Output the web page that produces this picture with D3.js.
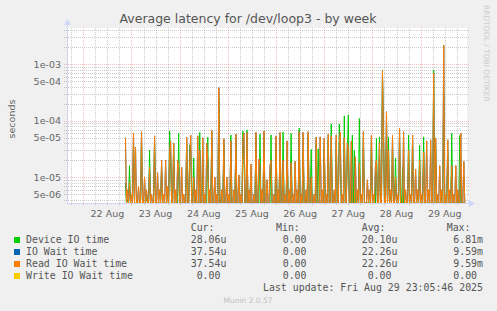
<!DOCTYPE html>
<html><head><meta charset="utf-8">
<script src="https://cdn.jsdelivr.net/npm/d3@7"></script>
<style>body{margin:0;background:#f0f0f0}svg{display:block}</style>
</head><body>
<svg id="c" width="497" height="311"></svg>
<script>
// ---- data ----
const titleText = "Average latency for /dev/loop3 - by week";
const dayLabels = ["22 Aug","23 Aug","24 Aug","25 Aug","26 Aug","27 Aug","28 Aug","29 Aug"];
const yTickValues = [1e-3, 5e-4, 1e-4, 5e-5, 1e-5, 5e-6];
const yTickLabels = ["1e-03","5e-04","1e-04","5e-05","1e-05","5e-06"];
const seriesNames = ["Device IO time","IO Wait time","Read IO Wait time","Write IO Wait time"];
const seriesColors = ["#00cc00","#0066b3","#ff8000","#ffcc00"];
const curValues = ["28.06u","37.54u","37.54u","0.00"];
const minValues = ["0.00","0.00","0.00","0.00"];
const avgValues = ["20.10u","22.26u","22.26u","0.00"];
const maxValues = ["6.81m","9.59m","9.59m","0.00"];
const lastUpdate = "Last update: Fri Aug 29 23:05:46 2025";
// samples every 30 minutes starting 2025-08-22 21:00, values in microseconds
const sampleStart = Date.UTC(2025, 7, 22, 21, 0);
const deviceIOTime = [
8,0,4,0,16,0,0,0,40,0,
0,0,0,0,0,0,50,0,0,0,
0,5,0,0,30,0,0,0,0,45,
0,0,0,0,0,0,15,0,0,0,
0,0,6,0,66,20,0,0,40,0,
0,0,0,60,0,0,0,0,0,0,
0,40,0,0,37,30,0,0,22,0,
5,0,0,0,62,0,0,20,0,0,
0,0,51,0,0,0,50,0,0,0,
0,0,0,250,0,0,5,0,40,0,
0,0,0,0,0,56,0,0,0,0,
45,0,0,0,0,0,0,66,20,0,
0,69,0,5,0,0,0,0,0,0,
50,0,0,0,58,0,0,0,50,0,
0,0,0,0,0,56,0,0,0,0,
40,0,5,0,50,0,0,63,0,0,
0,30,0,0,0,60,0,0,0,0,
0,0,0,74,0,0,0,30,0,0,
5,0,55,0,0,31,0,0,0,0,
40,0,32,0,0,0,0,0,35,0,
0,0,45,0,0,88,0,0,5,0,
45,0,0,88,30,0,0,0,122,0,
0,25,127,0,0,0,56,0,30,0,
0,5,0,110,0,0,0,50,0,0,
0,0,0,0,0,45,0,0,0,0,
49,0,0,52,0,0,700,60,0,0,
100,0,51,0,5,0,40,0,0,22,
0,0,0,55,0,0,15,0,0,0,
0,0,56,0,0,0,45,0,0,0,
0,5,0,37,0,0,0,52,0,0,
0,0,0,0,0,0,0,790,0,35,
0,0,0,0,0,5,0,300,0,0,
0,30,0,0,0,60,0,0,0,0,
0,5,0,55,0,0,0,0,0];
const readIOWaitTime = [
50,0,6,0,8,0,5,0,60,0,
34,0,0,7,0,0,64,0,0,10,
0,6,0,0,15,0,5,0,0,54,
0,0,12,0,6,0,20,0,5,0,
20,0,7,0,30,43,0,0,40,0,
6,0,20,15,0,0,15,0,5,0,
0,51,0,0,20,56,0,0,10,0,
6,0,54,0,30,0,0,50,0,5,
0,40,20,0,6,0,67,0,0,10,
0,5,0,386,0,0,6,0,48,0,
0,10,0,5,0,44,0,0,6,0,
58,0,0,11,0,5,0,45,60,0,
0,62,0,6,0,17,0,0,5,0,
62,0,0,21,15,0,6,0,66,0,
0,9,0,0,16,20,0,0,5,0,
54,0,6,0,62,0,0,20,0,5,
0,44,0,6,0,18,0,5,0,19,
0,6,0,64,0,5,0,62,0,0,
6,0,64,0,0,10,0,0,5,0,
51,0,0,0,52,0,6,0,49,0,
5,0,58,0,0,54,0,0,6,0,
56,0,0,40,63,0,5,0,50,0,
0,40,35,0,0,44,0,0,0,23,
0,6,0,18,0,5,0,64,0,0,
0,9,0,6,0,56,0,5,0,16,
20,0,0,41,0,0,790,58,0,0,
145,0,30,0,6,0,56,0,0,10,
0,5,0,74,0,0,0,64,0,6,
0,0,30,0,5,0,56,0,0,14,
0,6,0,20,0,5,0,28,0,0,
44,0,6,0,46,0,0,700,0,49,
0,5,0,16,0,6,0,2200,0,5,
0,46,0,6,0,16,0,5,0,16,
0,6,0,0,60,0,0,19,0];
const ioWaitTime = readIOWaitTime; // identical series (same stats in legend)

// ---- chart ----
const W = 497, H = 311, L = 67, R = 467, T = 28, B = 203;
const svg = d3.select("#c");
svg.append("rect").attr("width", W).attr("height", H).attr("fill", "#f0f0f0");
svg.append("rect").attr("x", L).attr("y", T).attr("width", R - L).attr("height", B - T).attr("fill", "#ffffff");

const x = d3.scaleUtc()
  .domain([new Date(Date.UTC(2025, 7, 21, 15, 53)), new Date(Date.UTC(2025, 7, 29, 23, 6))])
  .range([L, R]);
const y = d3.scaleLog().domain([3.5e-6, 4.4e-3]).range([B, T]);
const yMin = y.domain()[0];

const minorC = "rgba(128,128,128,0.40)", majorC = "rgba(230,70,70,0.34)";
const grid = svg.append("g").attr("shape-rendering", "crispEdges");
// horizontal log grid
for (let e = -6; e <= -3; e++) {
  for (let k = 1; k <= 9; k++) {
    const v = k * Math.pow(10, e);
    if (v < y.domain()[0] || v > y.domain()[1]) continue;
    const yy = Math.round(y(v)) + 0.5;
    grid.append("line").attr("x1", L - 3).attr("x2", R + 3).attr("y1", yy).attr("y2", yy)
      .attr("stroke", k === 1 ? majorC : minorC).attr("stroke-dasharray", "1,1");
  }
}
// vertical grid every 6 h, midnights red
const sixH = d3.utcHour.every(6).range(x.domain()[0], x.domain()[1]);
sixH.forEach(t => {
  const xx = Math.round(x(t)) + 0.5;
  grid.append("line").attr("x1", xx).attr("x2", xx).attr("y1", T).attr("y2", B + 3)
    .attr("stroke", t.getUTCHours() === 0 ? majorC : minorC).attr("stroke-dasharray", "1,1");
});

// data lines
svg.append("clipPath").attr("id", "clip").append("rect")
  .attr("x", L).attr("y", T).attr("width", R - L).attr("height", B - T + 0.5);
const tOf = i => new Date(sampleStart + i * 30 * 60 * 1000);
const line = d3.line()
  .x((d, i) => x(tOf(i)))
  .y(d => y(Math.max(d * 1e-6, yMin)));
const plotSeries = [deviceIOTime, ioWaitTime, readIOWaitTime];
const gl = svg.append("g").attr("clip-path", "url(#clip)");
plotSeries.forEach((s, k) => {
  gl.append("path").attr("d", line(s)).attr("fill", "none")
    .attr("stroke", seriesColors[k]).attr("stroke-width", 1);
});

// axes
const axisC = "#cfd6f8";
svg.append("line").attr("x1", L + 0.5).attr("x2", L + 0.5).attr("y1", B).attr("y2", T - 4)
  .attr("stroke", axisC).attr("stroke-width", 1);
svg.append("path").attr("d", `M${L - 3},${T - 3}L${L + 0.5},${T - 9}L${L + 4},${T - 3}Z`).attr("fill", axisC);
svg.append("line").attr("x1", L).attr("x2", R + 3).attr("y1", B + 0.5).attr("y2", B + 0.5)
  .attr("stroke", axisC).attr("stroke-width", 1);
svg.append("path").attr("d", `M${R + 2},${B - 3}L${R + 8},${B + 0.5}L${R + 2},${B + 4}Z`).attr("fill", axisC);

const font = "DejaVu Sans, sans-serif";
// y tick labels
yTickValues.forEach((v, i) => {
  svg.append("text").attr("x", 61).attr("y", y(v) + 3.5).attr("text-anchor", "end")
    .attr("font-family", font).attr("font-size", 9.5).attr("fill", "#666").text(yTickLabels[i]);
});
// x labels at noon
dayLabels.forEach((lab, i) => {
  const t = new Date(Date.UTC(2025, 7, 22 + i, 12, 0));
  svg.append("text").attr("x", x(t)).attr("y", 216.5).attr("text-anchor", "middle")
    .attr("font-family", font).attr("font-size", 9.5).attr("fill", "#666").text(lab);
});
// y label
svg.append("text").attr("transform", "translate(15,119) rotate(-90)").attr("text-anchor", "middle")
  .attr("font-family", font).attr("font-size", 9.5).attr("fill", "#666").text("seconds");
// title
svg.append("text").attr("x", 248).attr("y", 22.5).attr("text-anchor", "middle")
  .attr("font-family", font).attr("font-size", 12.5).attr("fill", "#555").text(titleText);
// rrdtool credit
svg.append("text").attr("transform", "translate(484,5) rotate(90)")
  .attr("font-family", font).attr("font-size", 7.5).attr("fill", "#cccccc").text("RRDTOOL / TOBI OETIKER");

// legend
const mono = "DejaVu Sans Mono, monospace";
const lg = svg.append("g").attr("font-family", mono).attr("font-size", 9.9).attr("fill", "#555");
const headers = [["Cur:", 190.7], ["Min:", 276], ["Avg:", 361.7], ["Max:", 446.7]];
headers.forEach(h => lg.append("text").attr("x", h[1]).attr("y", 231).text(h[0]));
const colX = (s, base) => base + (6 - s.length) * 5.96 + (s.endsWith("u") || s.endsWith("m") ? 0 : -5.96);
seriesNames.forEach((n, i) => {
  const by = 243 + i * 12;
  svg.append("rect").attr("x", 14).attr("y", by - 6).attr("width", 6).attr("height", 6).attr("fill", seriesColors[i]);
  lg.append("text").attr("x", 26).attr("y", by).text(n);
  lg.append("text").attr("x", colX(curValues[i], 190.7)).attr("y", by).text(curValues[i]);
  lg.append("text").attr("x", 282.7).attr("y", by).text(minValues[i]);
  lg.append("text").attr("x", colX(avgValues[i], 361.7)).attr("y", by).text(avgValues[i]);
  lg.append("text").attr("x", colX(maxValues[i], 447.3)).attr("y", by).text(maxValues[i]);
});
lg.append("text").attr("x", 483).attr("y", 291).attr("text-anchor", "end").text(lastUpdate);
svg.append("text").attr("x", 248).attr("y", 303).attr("text-anchor", "middle")
  .attr("font-family", font).attr("font-size", 7.5).attr("fill", "#c0c0c0").text("Munin 2.0.57");
</script>
</body></html>
